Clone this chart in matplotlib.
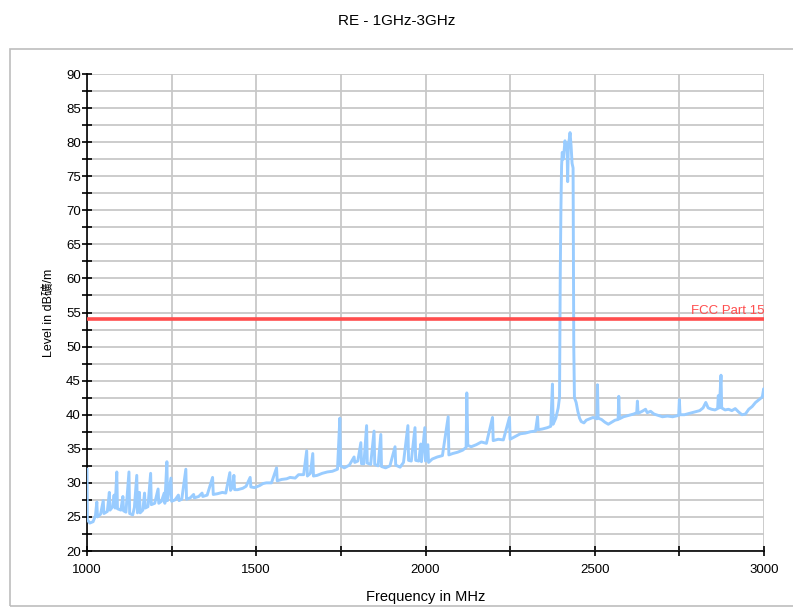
import matplotlib
matplotlib.use("Agg")
from matplotlib import pyplot as plt
from matplotlib.patches import Rectangle

freq = [
    1000, 1001, 1008, 1018, 1025, 1029, 1031, 1040, 1048, 1050,
    1060, 1066, 1068, 1076, 1080, 1083, 1088, 1090, 1100, 1106,
    1108, 1115, 1124, 1126, 1135, 1140, 1147, 1149, 1155, 1157,
    1165, 1170, 1172, 1180, 1188, 1190, 1200, 1210, 1212, 1220,
    1228, 1230, 1236, 1238, 1248, 1250, 1260, 1270, 1272, 1280,
    1292, 1294, 1305, 1315, 1317, 1330, 1340, 1342, 1355, 1371,
    1373, 1385, 1400, 1410, 1422, 1424, 1430, 1434, 1436, 1445,
    1460, 1470, 1482, 1484, 1495, 1510, 1520, 1530, 1545, 1560,
    1562, 1575, 1590, 1600, 1615, 1625, 1640, 1649, 1651, 1660,
    1667, 1669, 1680, 1695, 1710, 1725, 1740, 1747, 1749, 1760,
    1775, 1789, 1791, 1800, 1809, 1811, 1818, 1826, 1828, 1838,
    1848, 1850, 1860, 1868, 1870, 1882, 1895, 1910, 1912, 1925,
    1935, 1948, 1950, 1958, 1969, 1971, 1980, 1986, 1988, 1998,
    2000, 2007, 2009, 2020, 2035, 2050, 2067, 2069, 2080, 2095,
    2110, 2120, 2122, 2125, 2135, 2150, 2165, 2180, 2198, 2200,
    2215, 2230, 2248, 2250, 2265, 2280, 2295, 2310, 2325, 2331,
    2333, 2345, 2360, 2370, 2375, 2377, 2385, 2392, 2396, 2398,
    2400, 2402, 2404, 2407, 2410, 2412, 2415, 2418, 2420, 2422,
    2425, 2427, 2430, 2433, 2436, 2438, 2440, 2442, 2445, 2450,
    2455, 2460, 2468, 2475, 2485, 2495, 2506, 2508, 2510, 2520,
    2530, 2540, 2550, 2560, 2569, 2571, 2573, 2585, 2600, 2615,
    2624, 2626, 2628, 2640, 2650, 2655, 2665, 2675, 2688, 2700,
    2715, 2730, 2748, 2750, 2752, 2765, 2780, 2795, 2810, 2820,
    2828, 2835, 2845, 2855, 2863, 2865, 2868, 2873, 2875, 2885,
    2895, 2905, 2915, 2925, 2935, 2945, 2955, 2965, 2975, 2985,
    2995, 2999, 3000,
]
level = [
    32.0, 24.6, 24.1, 24.3, 25.2, 27.2, 25.0, 25.4, 27.4, 25.5,
    25.8, 28.6, 26.0, 26.5, 28.2, 26.3, 31.6, 26.2, 26.0, 28.0,
    25.9, 25.7, 31.6, 25.5, 25.3, 26.4, 31.1, 25.6, 28.6, 25.6,
    26.0, 28.5, 26.3, 26.5, 31.4, 26.8, 27.0, 29.1, 27.0, 27.3,
    28.5, 27.0, 33.1, 27.4, 30.7, 27.3, 27.5, 28.2, 27.4, 27.6,
    32.0, 27.6, 27.8, 28.3, 27.8, 28.0, 28.5, 28.0, 28.2, 30.8,
    28.3, 28.4, 28.6, 28.5, 31.5, 28.9, 29.4, 31.1, 29.0, 29.0,
    29.2, 29.5, 30.8, 29.4, 29.3, 29.6, 29.9, 30.0, 30.0, 32.2,
    30.3, 30.5, 30.6, 30.8, 30.7, 31.2, 31.2, 34.7, 31.0, 31.4,
    34.3, 31.0, 31.1, 31.4, 31.6, 31.7, 32.0, 39.5, 32.5, 32.2,
    32.6, 33.8, 33.0, 33.2, 35.9, 32.8, 32.8, 38.4, 32.9, 32.7,
    37.6, 32.7, 32.5, 37.1, 32.4, 32.2, 32.5, 35.3, 32.6, 32.3,
    33.0, 38.4, 33.3, 33.2, 38.1, 33.3, 33.2, 35.7, 33.1, 38.1,
    33.2, 35.6, 33.0, 33.5, 33.8, 34.0, 39.7, 34.1, 34.3, 34.5,
    34.8, 35.2, 43.2, 35.5, 35.3, 35.6, 36.0, 35.8, 39.6, 36.2,
    36.4, 36.3, 39.6, 36.4, 36.8, 37.2, 37.3, 37.5, 37.6, 39.7,
    37.8, 37.9, 38.1, 38.3, 44.5, 38.6, 39.5, 41.0, 42.6, 60.0,
    70.0, 76.5, 78.5, 77.5, 79.0, 80.2, 79.0, 79.5, 74.2, 79.7,
    80.5, 81.4, 79.5, 76.9, 76.2, 50.0, 42.5, 42.2, 41.8, 40.5,
    39.5, 39.0, 38.8, 39.2, 39.4, 39.6, 39.4, 44.4, 39.5, 39.3,
    38.9, 38.6, 38.9, 39.2, 39.3, 42.7, 39.4, 39.7, 39.9, 40.1,
    40.3, 42.0, 40.2, 40.5, 40.8, 40.3, 40.5, 40.1, 39.9, 39.7,
    39.8, 39.7, 39.9, 42.2, 40.0, 40.0, 40.2, 40.4, 40.6, 41.0,
    41.8, 41.0, 40.8, 40.7, 40.9, 42.8, 41.0, 45.8, 41.0, 40.7,
    40.8, 40.6, 40.9, 40.4, 40.0, 40.1, 40.8, 41.2, 41.8, 42.2,
    42.6, 43.8, 42.8,
]

limit_name = 'FCC Part 15'
limit_db = 54
x_ticks = [1000, 1250, 1500, 1750, 2000, 2250, 2500, 2750, 3000]
y_ticks = [20 + 2.5 * i for i in range(29)]

plt.rcParams['font.family'] = ['Liberation Sans', 'Noto Sans CJK SC', 'DejaVu Sans']

fig = plt.figure(figsize=(7.93, 6.07), dpi=100)
fig.patches.append(Rectangle((10 / 793, 1 / 607), 800 / 793, 557 / 607,
                             transform=fig.transFigure, fill=False,
                             edgecolor='#BDBDBD', linewidth=1.2))
ax = fig.add_axes([87 / 793, 1 - 551 / 607, 677 / 793, 477 / 607])

ax.plot(freq, level, color='#99CCFF', linewidth=2.1, zorder=3)
ax.axhline(limit_db, color='#FF4D4D', linewidth=2.6, zorder=4)
ax.text(3000, limit_db + 0.3, limit_name, color='#FF4D4D', fontsize=9.5,
        ha='right', va='bottom', zorder=5)

ax.set_xlim(1000, 3000)
ax.set_ylim(20, 90)
ax.set_xticks(x_ticks)
ax.set_xticklabels([str(t) if t % 500 == 0 else '' for t in x_ticks])
ax.set_yticks(y_ticks)
ax.set_yticklabels([str(int(t)) if t % 5 == 0 else '' for t in y_ticks])
ax.tick_params(direction='inout', length=7, width=1.2, labelsize=9.5)
ax.tick_params(axis='x', pad=6)
ax.tick_params(axis='y', pad=1)
ax.grid(True, color='#C8C8C8', linewidth=1.3)
ax.set_axisbelow(True)
for side in ['top', 'right']:
    ax.spines[side].set_visible(False)
for side in ['left', 'bottom']:
    ax.spines[side].set_linewidth(1.2)

ax.set_xlabel('Frequency in MHz', fontsize=10.5, labelpad=10)
ax.set_ylabel('Level in dB礦/m', fontsize=9, labelpad=8)
fig.suptitle('RE - 1GHz-3GHz', fontsize=11, y=0.977)

plt.savefig('out.png', dpi=100)
